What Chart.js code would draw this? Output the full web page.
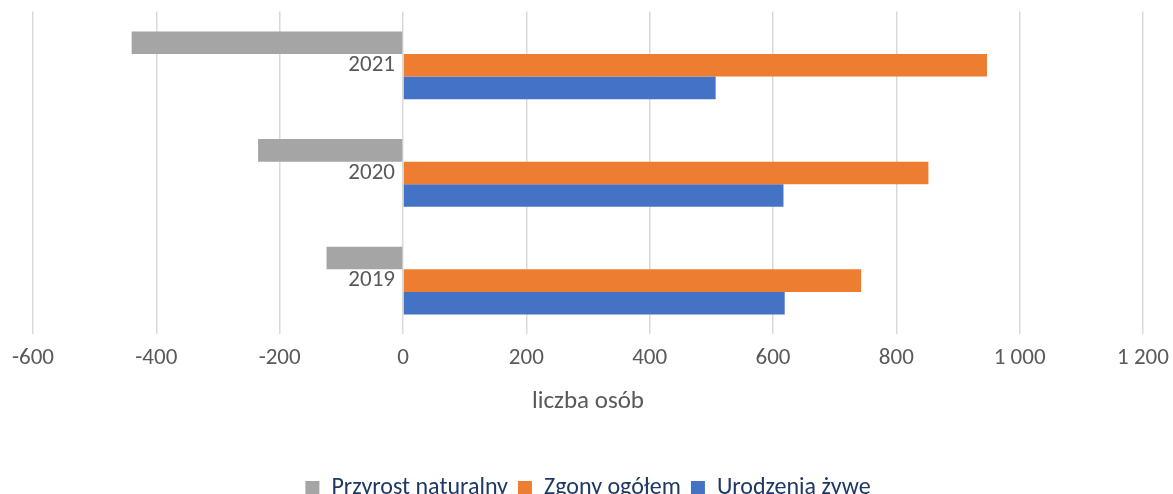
<!DOCTYPE html>
<html>
<head>
<meta charset="utf-8">
<script src="https://cdn.jsdelivr.net/npm/chart.js@4.4.1/dist/chart.umd.min.js"></script>
<style>
  html, body { margin: 0; padding: 0; background: #fff; overflow: hidden; }
  #wrap { width: 1173px; height: 510px; position: relative; }
</style>
</head>
<body>
<div id="wrap"><canvas id="birthsChart"></canvas></div>
<script>
// Data
const years = ['2021', '2020', '2019'];
const naturalIncrease = [-440, -235, -124];
const deathsTotal = [947, 852, 743];
const liveBirths = [507, 617, 619];

const FONT = 'Carlito, Calibri, Lato, sans-serif';

function formatTick(value) {
    // "1 000" style thousands separator
    const s = String(Math.abs(value)).replace(/\B(?=(\d{3})+(?!\d))/g, ' ');
    return (value < 0 ? '-' : '') + s;
}

document.addEventListener('DOMContentLoaded', function() {
    const ctx = document.getElementById('birthsChart').getContext('2d');

    new Chart(ctx, {
        type: 'bar',
        data: {
            labels: years,
            datasets: [{
                label: 'Przyrost naturalny',
                data: naturalIncrease,
                backgroundColor: '#a5a5a5'
            }, {
                label: 'Zgony ogółem',
                data: deathsTotal,
                backgroundColor: '#ed7d31'
            }, {
                label: 'Urodzenia żywe',
                data: liveBirths,
                backgroundColor: '#4472c4'
            }]
        },
        options: {
            indexAxis: 'y',
            responsive: true,
            maintainAspectRatio: false,
            animation: false,
            layout: {
                padding: { left: 33, right: 30, top: 0 }
            },
            datasets: {
                bar: {
                    categoryPercentage: 0.63,
                    barPercentage: 1.0
                }
            },
            scales: {
                x: {
                    min: -600,
                    max: 1200,
                    grid: {
                        color: '#d9d9d9',
                        lineWidth: 1.5,
                        // invisible tick marks give the label gap without widening the side padding
                        drawTicks: true,
                        tickLength: 7,
                        tickColor: 'rgba(0,0,0,0)'
                    },
                    border: { display: false },
                    ticks: {
                        stepSize: 200,
                        padding: 3,
                        color: '#595959',
                        font: { family: FONT, size: 23 },
                        callback: formatTick
                    },
                    title: {
                        display: true,
                        text: 'liczba osób',
                        color: '#595959',
                        font: { family: FONT, size: 25 },
                        padding: { top: 12, bottom: 49 }
                    }
                },
                y: {
                    // category labels sit just left of the zero line
                    position: { x: -13 },
                    grid: { display: false },
                    border: { display: false },
                    ticks: {
                        padding: 0,
                        color: '#595959',
                        font: { family: FONT, size: 23, lineHeight: 1 }
                    }
                }
            },
            plugins: {
                legend: {
                    position: 'bottom',
                    labels: {
                        boxWidth: 14,
                        boxHeight: 14,
                        padding: 10,
                        color: '#1f3864',
                        font: { family: FONT, size: 24 }
                    }
                },
                tooltip: { enabled: false }
            }
        }
    });
});
</script>
</body>
</html>
